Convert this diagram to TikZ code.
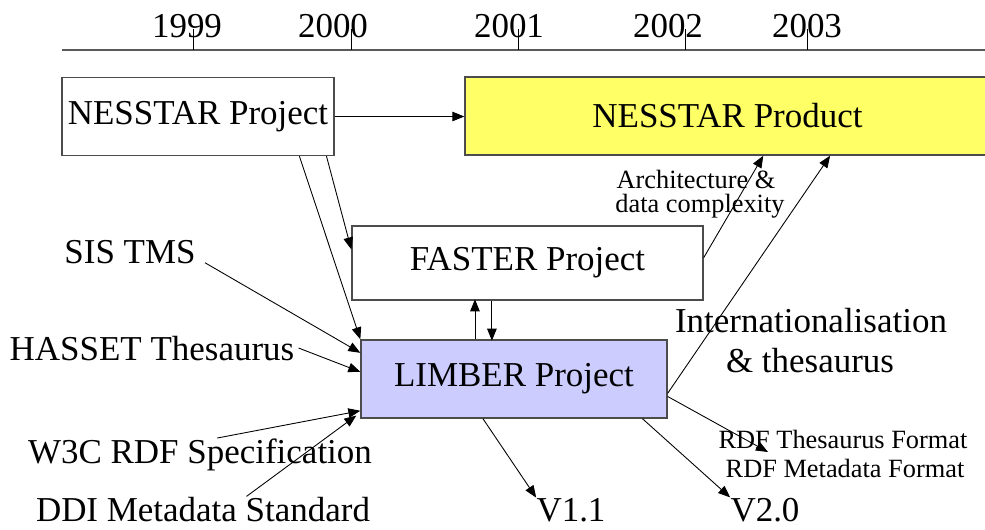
\documentclass[tikz,border=0pt]{standalone}
\usepackage{fontspec}
\setmainfont{Liberation Serif}
\usetikzlibrary{arrows.meta,calc}
\definecolor{prodyellow}{RGB}{255,255,102}
\definecolor{limberblue}{RGB}{204,204,255}

\begin{document}
\begin{tikzpicture}[x=0.02cm, y=-0.02cm,
    box/.style = {draw=black!70, line width=0.8pt, minimum height=1.56cm, inner sep=0pt, font=\fontsize{19.9}{22}\selectfont},
    lbl/.style = {anchor=base, inner sep=0pt, font=\fontsize{19.9}{22}\selectfont},
    note/.style = {anchor=base, inner sep=0pt, font=\fontsize{15}{17}\selectfont},
    arr/.style = {-{Triangle[length=2.4mm,width=1.9mm]}, line width=0.5pt}]
  \useasboundingbox (0,0) rectangle (985,529);
  % time line
  \draw[line width=1.2pt, black!65] (62,50) -- (985,50);
  \foreach \yr/\x/\tk in {1999/187/193, 2000/333/351, 2001/509/518, 2002/668/685, 2003/807/807} {
    \node[lbl] (y\yr) at (\x,37) {\yr};
    \draw[line width=0.4pt] (\tk,29) -- (\tk,50);
  }
  % projects
  \node[box, minimum width=5.44cm] (nproj) at (198,116.5) {NESSTAR Project};
  \node[box, fill=prodyellow, minimum width=10.5cm] (nprod) at (727.5,116) {NESSTAR Product};
  \node[box, minimum width=7.02cm, minimum height=1.48cm] (faster) at (527.5,263) {FASTER Project};
  \node[box, fill=limberblue, minimum width=6.12cm] (limber) at (514,379) {LIMBER Project};
  % inputs and outputs
  \node[lbl] (sis) at (130,263) {SIS TMS};
  \node[lbl] (hasset) at (152,360) {HASSET Thesaurus};
  \node[lbl] (w3c) at (200,463) {W3C RDF Specification};
  \node[lbl] (ddi) at (203,521) {DDI Metadata Standard};
  \node[lbl] (v11) at (571,521) {V1.1};
  \node[lbl] (v20) at (765,521) {V2.0};
  \node[lbl] (intl) at (811,332) {Internationalisation};
  \node[lbl] (thes) at (810,372) {\& thesaurus};
  \node[note] (arch) at (696,188) {Architecture \&};
  \node[note] (datac) at (700,212) {data complexity};
  \node[note] (rdft) at (843,448) {RDF Thesaurus Format};
  \node[note] (rdfm) at (845,477) {RDF Metadata Format};
  \coordinate (rdftip) at (768,452);
  % connectors
  \draw[arr] (nproj.east) -- (nproj.east -| nprod.west);
  \draw[arr] ($(nproj.south west)!0.871!(nproj.south east)$) -- (limber.north west);
  \draw[arr] ($(nproj.south west)!0.97!(nproj.south east)$) -- ($(faster.north west)!0.32!(faster.south west)$);
  \draw[arr] ($(limber.north west)!0.373!(limber.north east)$) -- +(0,-40);
  \draw[arr] ($(faster.south west)!0.399!(faster.south east)$) -- +(0,40);
  \draw[arr] ($(faster.north east)!0.43!(faster.south east)$) -- ($(nprod.south west)!0.568!(nprod.south east)$);
  \draw[arr] ($(limber.north east)!0.68!(limber.south east)$) -- ($(nprod.south west)!0.695!(nprod.south east)$);
  \draw[arr] ($(limber.north east)!0.72!(limber.south east)$) -- (rdftip);
  \draw[arr] ($(limber.south west)!0.399!(limber.south east)$) -- (v11.north west);
  \draw[arr] ($(limber.south west)!0.918!(limber.south east)$) -- (v20.north west);
  \draw[arr] ($(sis.south east)+(9,-1)$) -- ($(limber.north west)!0.17!(limber.south west)$);
  \draw[arr] ($(hasset.east)+(4,0)$) -- ($(limber.north west)!0.41!(limber.south west)$);
  \draw[arr] ($(w3c.north west)!0.55!(w3c.north east)$) -- ($(limber.north west)!0.9!(limber.south west)$);
  \draw[arr] ($(ddi.north west)!0.63!(ddi.north east)$) -- ($(limber.north west)!0.96!(limber.south west)+(-4,0)$);
\end{tikzpicture}
\end{document}
